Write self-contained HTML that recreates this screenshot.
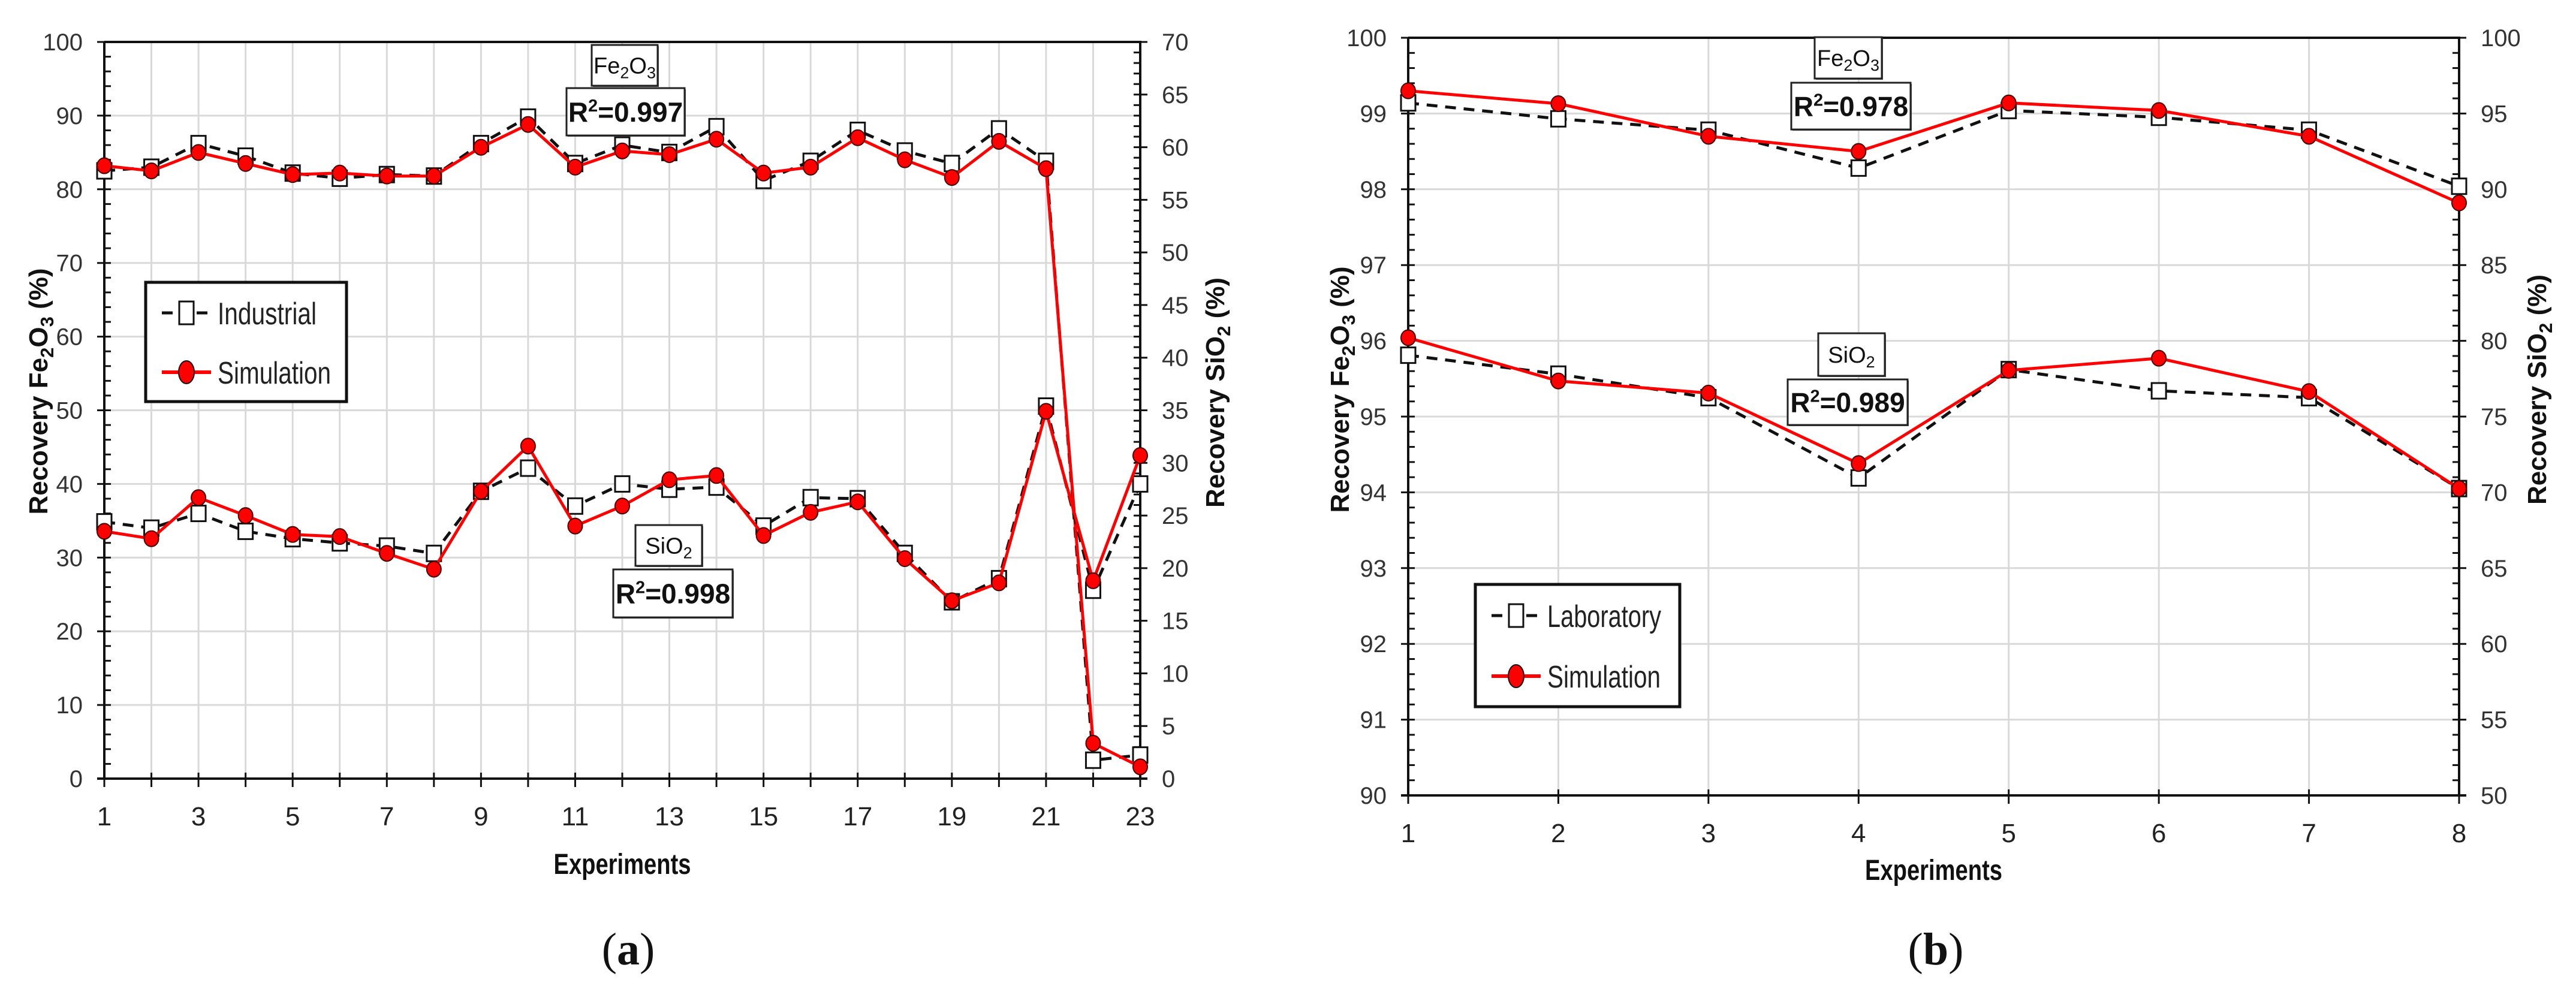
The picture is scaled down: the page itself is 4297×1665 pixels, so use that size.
<!DOCTYPE html>
<html><head><meta charset="utf-8"><style>
html,body{margin:0;padding:0;background:#fff;}
svg{display:block;}
</style></head><body>
<svg id="fig" xmlns="http://www.w3.org/2000/svg" width="4297" height="1665" viewBox="0 0 4297 1665" font-family="Liberation Sans, sans-serif"></svg>
<script>
// ---- Chart (a) data ----
const aExperiments = [1,2,3,4,5,6,7,8,9,10,11,12,13,14,15,16,17,18,19,20,21,22,23];
const aXTickLabels = [1,3,5,7,9,11,13,15,17,19,21,23];
const aLeftTicks = [0,10,20,30,40,50,60,70,80,90,100];
const aRightTicks = [0,5,10,15,20,25,30,35,40,45,50,55,60,65,70];
const aFeIndustrial = [82.5,83,86.2,84.5,82.2,81.5,82,81.8,86.2,89.8,83.5,86,85,88.5,81.2,83.8,88,85.2,83.5,88.2,83.8,2.5,3.2];
const aFeSimulation = [83.2,82.5,85,83.5,82,82.2,81.8,81.8,85.7,88.8,83,85.2,84.7,86.8,82.2,83,87,84,81.6,86.5,82.8,4.8,1.6];
const aSiIndustrial = [24.4,23.8,25.2,23.5,22.8,22.4,22.1,21.4,27.3,29.5,25.9,28,27.5,27.7,24,26.7,26.6,21.4,16.8,19,35.4,17.9,28];
const aSiSimulation = [23.5,22.8,26.7,25,23.2,23,21.4,19.9,27.3,31.6,24,25.9,28.4,28.8,23.1,25.3,26.3,20.9,16.9,18.6,34.9,18.8,30.7];
// ---- Chart (b) data ----
const bExperiments = [1,2,3,4,5,6,7,8];
const bXTickLabels = [1,2,3,4,5,6,7,8];
const bLeftTicks = [90,91,92,93,94,95,96,97,98,99,100];
const bRightTicks = [50,55,60,65,70,75,80,85,90,95,100];
const bFeLaboratory = [99.14,98.93,98.78,98.28,99.04,98.95,98.78,98.04];
const bFeSimulation = [99.30,99.13,98.70,98.50,99.14,99.04,98.70,97.82];
const bSiLaboratory = [79.05,77.8,76.25,70.95,78.1,76.7,76.25,70.25];
const bSiSimulation = [80.2,77.35,76.55,71.9,78.05,78.85,76.65,70.25];

const NS="http://www.w3.org/2000/svg";
const svg=document.getElementById('fig');
function mk(tag,attrs,parent){const e=document.createElementNS(NS,tag);for(const k in attrs)e.setAttribute(k,attrs[k]);(parent||svg).appendChild(e);return e;}
const sub=(n,fs)=>`<tspan baseline-shift="${-Math.round(fs*0.22)}" font-size="${Math.round(fs*0.7)}">${n}</tspan>`;
const sup=(n,fs)=>`<tspan baseline-shift="${Math.round(fs*0.38)}" font-size="${Math.round(fs*0.62)}">${n}</tspan>`;

function buildChart(cfg){
  const g=mk('g',{});
  
  
  const {x0,x1,y0,y1}=cfg;
  const xs=v=>x0+(v-cfg.xMin)/(cfg.xMax-cfg.xMin)*(x1-x0);
  const yl=v=>y1-(v-cfg.lMin)/(cfg.lMax-cfg.lMin)*(y1-y0);
  const yr=v=>y1-(v-cfg.rMin)/(cfg.rMax-cfg.rMin)*(y1-y0);
  const grid=mk('g',{stroke:'#d9d9d9','stroke-width':3},g);
  
  
  cfg.exps.forEach(v=>{mk('line',{x1:xs(v),x2:xs(v),y1:y0,y2:y1},grid);});
  cfg.lTicks.forEach(v=>{mk('line',{x1:x0,x2:x1,y1:yl(v),y2:yl(v)},grid);});
  const ax=mk('g',{stroke:'#111','stroke-width':4},g);
  
  
  mk('line',{x1:x0,x2:x1+2,y1:y0,y2:y0},ax);
  mk('line',{x1:x0-12,x2:x1+12,y1:y1,y2:y1},ax);
  mk('line',{x1:x0,x2:x0,y1:y0,y2:y1+2},ax);
  mk('line',{x1:x1,x2:x1,y1:y0,y2:y1+2},ax);
  for(let v=cfg.lMin;v<=cfg.lMax+1e-9;v+=cfg.lMinor){
    const y=yl(v);const major=Math.abs(Math.round(v/cfg.lStep)*cfg.lStep-v)<1e-6;
    mk('line',{x1:major?x0-12:x0,x2:x0+11,y1:y,y2:y,'stroke-width':3},ax);
  }
  for(let v=cfg.rMin;v<=cfg.rMax+1e-9;v+=cfg.rMinor){
    const y=yr(v);const major=Math.abs(Math.round(v/cfg.rStep)*cfg.rStep-v)<1e-6;
    mk('line',{x1:x1-11,x2:major?x1+12:x1,y1:y,y2:y,'stroke-width':3},ax);
  }
  cfg.exps.forEach(v=>{mk('line',{x1:xs(v),x2:xs(v),y1:y1-10,y2:y1+14,'stroke-width':3},ax);});
  cfg.lTicks.forEach(v=>{const t=mk('text',{x:x0-36,y:yl(v)+14,'text-anchor':'end','font-size':40,fill:'#333'},g);t.textContent=v;
    });
  cfg.rTicks.forEach(v=>{const t=mk('text',{x:x1+36,y:yr(v)+14,'text-anchor':'start','font-size':40,fill:'#333'},g);t.textContent=v;
    });
  cfg.xLabels.forEach(v=>{const t=mk('text',{x:xs(v),y:y1+78,'text-anchor':'middle','font-size':44,fill:'#222'},g);t.textContent=v;
    });
  const xt=mk('text',{x:(x0+x1)/2,y:cfg.xTitleY,'text-anchor':'middle','font-size':48,'font-weight':'bold',textLength:229,lengthAdjust:'spacingAndGlyphs',fill:'#111'},g);
  xt.textContent='Experiments';
  
  
  const lt=mk('text',{transform:`translate(${cfg.lTitleX},${cfg.lTitleY}) rotate(-90)`,'text-anchor':'middle','font-size':44,'font-weight':'bold',fill:'#111'},g);
  lt.innerHTML='Recovery Fe'+sub(2,44)+'O'+sub(3,44)+' (%)';
  
  
  const rt=mk('text',{transform:`translate(${cfg.rTitleX},${cfg.rTitleY}) rotate(-90)`,'text-anchor':'middle','font-size':44,'font-weight':'bold',fill:'#111'},g);
  rt.innerHTML='Recovery SiO'+sub(2,44)+' (%)';
  
  
  function series(vals,scale,kind,name){
    const sg=mk('g',{},g);
    
    
    const pts=vals.map((v,i)=>[xs(cfg.exps[i]),scale(v)]);
    const d=pts.map((p,i)=>(i?'L':'M')+p[0].toFixed(1)+' '+p[1].toFixed(1)).join(' ');
    if(kind==='sq'){
      mk('path',{d,fill:'none',stroke:'#111','stroke-width':5,'stroke-dasharray':'18 13'},sg);
      pts.forEach(p=>{const r=mk('rect',{x:p[0]-12,y:p[1]-13,width:24,height:26,fill:'#fff',stroke:'#111','stroke-width':3},sg);
        });
    }else{
      mk('path',{d,fill:'none',stroke:'#ff0000','stroke-width':5},sg);
      pts.forEach(p=>{const c=mk('ellipse',{cx:p[0],cy:p[1],rx:12,ry:13,fill:'#ff0000',stroke:'#400','stroke-width':2},sg);
        });
    }
  }
  series(cfg.feA,yl,'sq','fe2o3-'+cfg.aLabel.toLowerCase()+'-series');
  series(cfg.feS,yl,'ci','fe2o3-simulation-series');
  series(cfg.siA,yr,'sq','sio2-'+cfg.aLabel.toLowerCase()+'-series');
  series(cfg.siS,yr,'ci','sio2-simulation-series');
  function box(b,html,fs,bold,name){
    const bg=mk('g',{},g);
    
    
    mk('rect',{x:b[0]+2,y:b[1]+2,width:b[2]-b[0],height:b[3]-b[1],fill:'#555'},bg);
    mk('rect',{x:b[0],y:b[1],width:b[2]-b[0],height:b[3]-b[1],fill:'#fff',stroke:'#222','stroke-width':3},bg);
    const t=mk('text',{x:(b[0]+b[2])/2,y:(b[1]+b[3])/2+fs*0.36,'text-anchor':'middle','font-size':fs,'font-weight':bold?'bold':'normal',fill:'#111'},bg);
    t.innerHTML=html;
  }
  box(cfg.feBox,'Fe'+sub(2,38)+'O'+sub(3,38),38,false,'fe2o3-label');
  box(cfg.feR2Box,'R'+sup(2,46)+'=0.'+cfg.feR2,46,true,'fe2o3-r2-label');
  box(cfg.siBox,'SiO'+sub(2,38),38,false,'sio2-label');
  box(cfg.siR2Box,'R'+sup(2,46)+'=0.'+cfg.siR2,46,true,'sio2-r2-label');
  const L=cfg.legend;
  const lg=mk('g',{},g);
  
  
  mk('rect',{x:L.x,y:L.y,width:L.w,height:L.h,fill:'#fff',stroke:'#111','stroke-width':5},lg);
  const sx0=L.x+27,sx1=L.x+109,cx=(sx0+sx1)/2;
  mk('line',{x1:sx0,x2:sx1,y1:L.e1,y2:L.e1,stroke:'#111','stroke-width':5,'stroke-dasharray':'18 40'},lg);
  mk('rect',{x:cx-12,y:L.e1-19,width:24,height:38,fill:'#fff',stroke:'#111','stroke-width':3},lg);
  const t1=mk('text',{x:L.x+120,y:L.e1+19,'font-size':52,fill:'#222',textLength:L.t1w,lengthAdjust:'spacingAndGlyphs'},lg);
  t1.textContent=cfg.aLabel;
  
  
  mk('line',{x1:sx0,x2:sx1,y1:L.e2,y2:L.e2,stroke:'#ff0000','stroke-width':6},lg);
  mk('ellipse',{cx,cy:L.e2,rx:13,ry:19,fill:'#ff0000',stroke:'#111','stroke-width':2},lg);
  const t2=mk('text',{x:L.x+120,y:L.e2+19,'font-size':52,fill:'#222',textLength:L.t2w,lengthAdjust:'spacingAndGlyphs'},lg);
  t2.textContent='Simulation';
  
  
  const pl=mk('text',{x:cfg.panelX,y:1609,'text-anchor':'middle','font-size':76,'font-family':'Liberation Serif, serif',fill:'#111'},g);
  pl.innerHTML='(<tspan font-weight="bold">'+cfg.panel+'</tspan>)';
  
  
}

buildChart({name:'chart-a-industrial',x0:174,x1:1902,y0:70,y1:1299,xMin:1,xMax:23,lMin:0,lMax:100,lStep:10,lMinor:2,rMin:0,rMax:70,rStep:5,rMinor:1,
  exps:aExperiments,xLabels:aXTickLabels,lTicks:aLeftTicks,rTicks:aRightTicks,
  feA:aFeIndustrial,feS:aFeSimulation,siA:aSiIndustrial,siS:aSiSimulation,aLabel:'Industrial',
  xTitleY:1458,lTitleX:79,lTitleY:653,rTitleX:2042,rTitleY:655,
  feBox:[987,75,1097,143],feR2Box:[945,147,1142,226],siBox:[1060,876,1171,944],siR2Box:[1023,950,1222,1030],feR2:'997',siR2:'998',
  legend:{x:243,y:471,w:335,h:199,e1:522,e2:621,t1w:165,t2w:189},panel:'a',panelX:1048});
buildChart({name:'chart-b-laboratory',x0:2349,x1:4102,y0:63,y1:1327,xMin:1,xMax:8,lMin:90,lMax:100,lStep:1,lMinor:0.2,rMin:50,rMax:100,rStep:5,rMinor:1,
  exps:bExperiments,xLabels:bXTickLabels,lTicks:bLeftTicks,rTicks:bRightTicks,
  feA:bFeLaboratory,feS:bFeSimulation,siA:bSiLaboratory,siS:bSiSimulation,aLabel:'Laboratory',
  xTitleY:1468,lTitleX:2250,lTitleY:650,rTitleX:4247,rTitleY:650,
  feBox:[3027,62,3139,131],feR2Box:[2988,138,3187,216],siBox:[3033,556,3144,627],siR2Box:[2982,633,3182,709],feR2:'978',siR2:'989',
  legend:{x:2461,y:975,w:341,h:204,e1:1027,e2:1128,t1w:190,t2w:189},panel:'b',panelX:3229});
</script>
</body></html>
